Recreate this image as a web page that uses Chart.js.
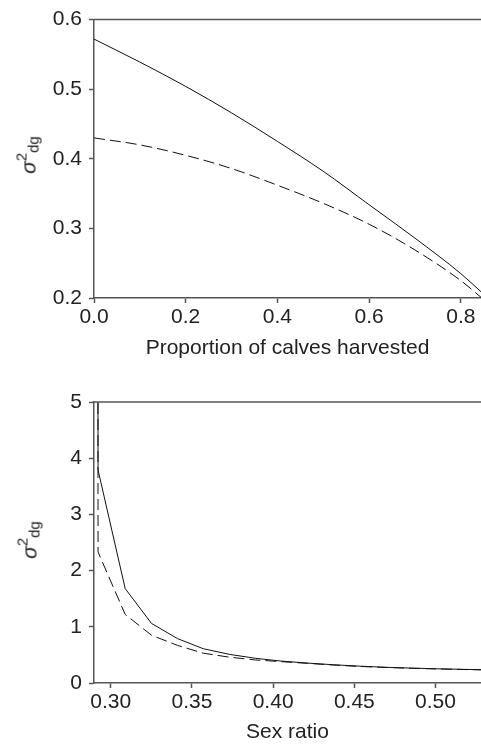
<!DOCTYPE html>
<html>
<head>
<meta charset="utf-8">
<script src="https://cdn.jsdelivr.net/npm/chart.js@4.4.1/dist/chart.umd.min.js"></script>
<style>
  html, body { margin: 0; padding: 0; background: #fff; }
  body { width: 481px; height: 745px; position: relative; overflow: hidden; }
  .panel { position: absolute; left: 0; }
  .ylab {
    position: absolute;
    font-family: "Liberation Sans", Arial, sans-serif;
    font-size: 21px;
    color: #222;
    white-space: nowrap;
    transform: translate(-50%, -50%) rotate(-90deg);
  }
  .ylab i { font-style: italic; }
  .ylab sup { font-size: 15px; vertical-align: 9px; }
  .ylab sub { font-size: 15px; vertical-align: -3px; }
</style>
</head>
<body>
<div class="panel" style="top:0"><canvas id="chart-harvest" width="481" height="361"></canvas></div>
<div class="panel" style="top:365px"><canvas id="chart-sexratio" width="481" height="380"></canvas></div>
<div class="ylab" style="left:27px; top:155px"><i>σ</i><sup>2</sup><sub>dg</sub></div>
<div class="ylab" style="left:28px; top:540px"><i>σ</i><sup>2</sup><sub>dg</sub></div>

<script>
/* ─── Data: top panel (proportion of calves harvested) ─────────────────── */
const harvestX      = [0.0, 0.1, 0.2, 0.3, 0.4, 0.5, 0.6, 0.7, 0.8, 0.844];
const harvestSolid  = [0.572, 0.539, 0.504, 0.466, 0.425, 0.382, 0.334, 0.286, 0.235, 0.209];
const harvestDashed = [0.430, 0.420, 0.405, 0.386, 0.362, 0.336, 0.306, 0.269, 0.225, 0.201];
const harvestTicksY = [0.2, 0.3, 0.4, 0.5, 0.6];

/* ─── Data: bottom panel (sex ratio) ───────────────────────────────────── */
const sexX      = [0.2910, 0.2922, 0.3089, 0.3251, 0.3411, 0.357, 0.373, 0.389, 0.405, 0.421, 0.437, 0.453, 0.469, 0.485, 0.501, 0.517, 0.533];
const sexSolid  = [40, 3.79, 1.68, 1.06, 0.79, 0.61, 0.51, 0.44, 0.39, 0.355, 0.325, 0.30, 0.28, 0.265, 0.253, 0.243, 0.234];
const sexDashed = [40, 2.33, 1.22, 0.85, 0.67, 0.53, 0.46, 0.41, 0.38, 0.35, 0.32, 0.295, 0.277, 0.262, 0.25, 0.24, 0.232];

const FONT  = '"Liberation Sans", Arial, sans-serif';
const AXIS  = '#555';
const INK   = '#111';

Chart.defaults.font.family = FONT;
Chart.defaults.font.size = 21;
Chart.defaults.color = '#222';

// ligne du haut du cadre (pas de bord droit)
const topFrame = {
  id: 'topFrame',
  afterDraw(chart) {
    const { ctx, chartArea: a } = chart;
    ctx.save();
    ctx.strokeStyle = AXIS;
    ctx.lineWidth = 1.5;
    ctx.beginPath();
    ctx.moveTo(a.left, a.top);
    ctx.lineTo(a.right, a.top);
    ctx.stroke();
    ctx.restore();
  }
};

function pts(xs, ys) {
  return xs.map((x, i) => ({ x, y: ys[i] }));
}

function lineSet(data, dashed, smooth) {
  return {
    data,
    borderColor: INK,
    borderWidth: 1,
    borderDash: dashed ? [11, 5] : [],
    pointRadius: 0,
    fill: false,
    tension: 0,
    cubicInterpolationMode: smooth ? 'monotone' : 'default',
  };
}

function makeChart(id, cfg) {
  return new Chart(document.getElementById(id), {
    type: 'line',
    data: { datasets: cfg.datasets },
    options: {
      responsive: false,
      animation: false,
      events: [],
      layout: { padding: { top: cfg.padTop, left: 0, right: 0, bottom: 0 } },
      plugins: { legend: { display: false }, tooltip: { enabled: false } },
      scales: {
        x: {
          type: 'linear',
          min: cfg.xMin, max: cfg.xMax,
          border: { color: AXIS, width: 1.5 },
          grid: { drawOnChartArea: false, tickLength: 5, color: AXIS, tickWidth: 1.5 },
          ticks: {
            stepSize: cfg.xStep, includeBounds: false, autoSkip: false, maxRotation: 0,
            padding: 2, callback: v => v.toFixed(cfg.xDec)
          },
          title: { display: true, text: cfg.xTitle, padding: { top: 0, bottom: 0 } },
          afterFit: s => { s.height = cfg.xHeight; }
        },
        y: {
          type: 'linear',
          min: cfg.yMin, max: cfg.yMax,
          border: { color: AXIS, width: 1.5 },
          grid: { drawOnChartArea: false, tickLength: 5, color: AXIS, tickWidth: 1.5 },
          ticks: { stepSize: cfg.yStep, includeBounds: false, padding: 7, callback: v => v.toFixed(cfg.yDec) },
          afterFit: s => { s.width = 94; }
        }
      }
    },
    plugins: [topFrame]
  });
}

makeChart('chart-harvest', {
  datasets: [
    lineSet(pts(harvestX, harvestSolid), false, true),
    lineSet(pts(harvestX, harvestDashed), true, true),
  ],
  padTop: 17, xHeight: 63,
  xMin: 0, xMax: 0.844, xStep: 0.2, xDec: 1,
  yMin: harvestTicksY[0], yMax: harvestTicksY[harvestTicksY.length - 1], yStep: 0.1, yDec: 1,
  xTitle: 'Proportion of calves harvested'
});

makeChart('chart-sexratio', {
  datasets: [
    lineSet(pts(sexX, sexSolid), false, false),
    lineSet(pts(sexX, sexDashed), true, false),
  ],
  padTop: 37, xHeight: 62,
  xMin: 0.2897, xMax: 0.528, xStep: 0.05, xDec: 2,
  yMin: 0, yMax: 5, yStep: 1, yDec: 0,
  xTitle: 'Sex ratio'
});
</script>
</body>
</html>
